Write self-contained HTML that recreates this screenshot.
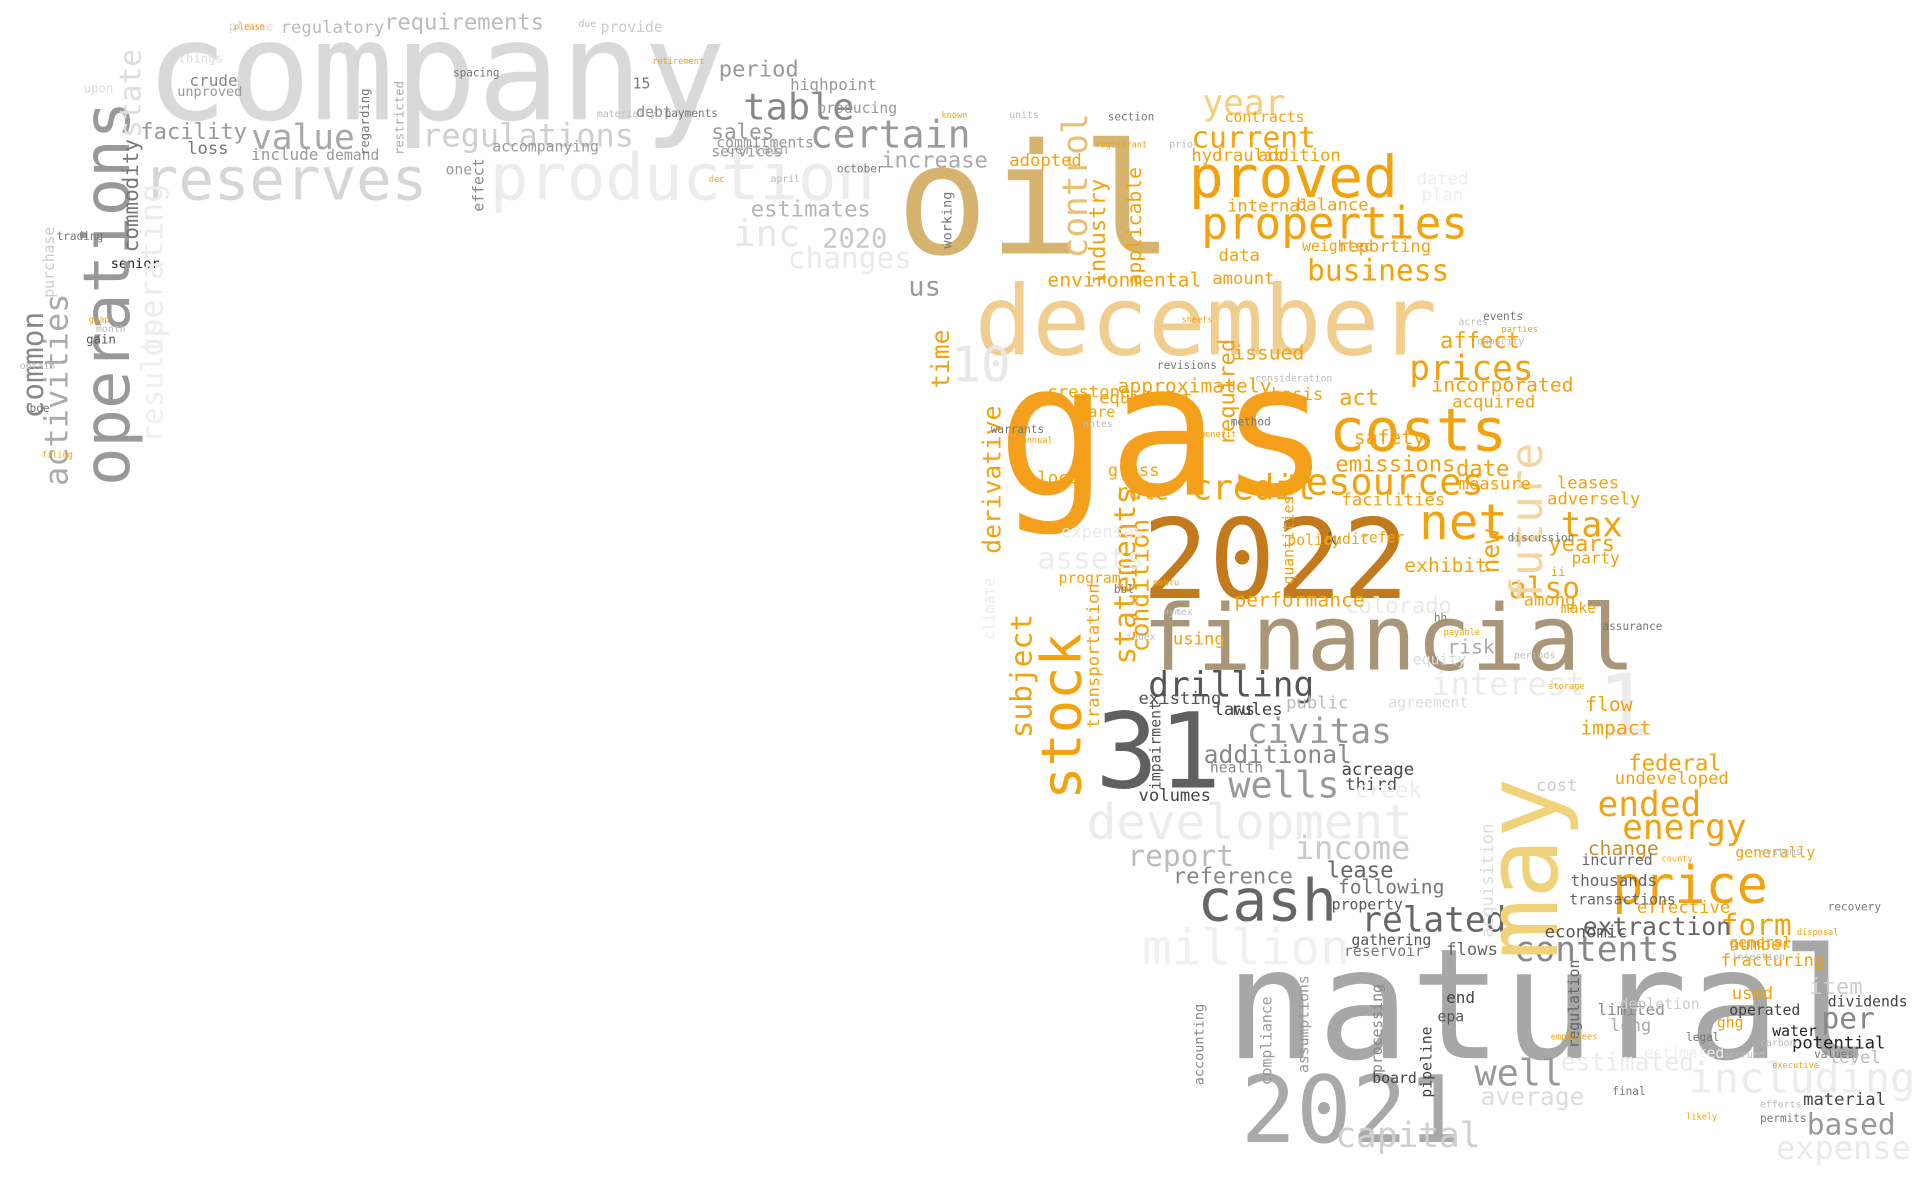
<!DOCTYPE html>
<html>
<head>
<meta charset="utf-8">
<style>
  html,body{margin:0;padding:0;background:#fff;}
  body{width:1920px;height:1196px;overflow:hidden;}
  svg{display:block;}
  text{font-family:"DejaVu Sans Mono","Liberation Mono",monospace;}
</style>
</head>
<body>
<svg id="cloud" width="1920" height="1196" viewBox="0 0 1560 972" preserveAspectRatio="none" xmlns="http://www.w3.org/2000/svg"></svg>
<script>
const words = [
 "company","reserves","production","regulations","value","facility","table","certain","period","sales",
 "increase","estimates","inc","2020","requirements","regulatory","loss","include","demand","crude",
 "unproved","highpoint","producing","senior","proved","properties","year","current","business","december",
 "gas","oil","costs","2022","financial","31","cash","natural","2021","net",
 "tax","resources","credit","prices","emissions","drilling","civitas","wells","development","income",
 "report","related","price","contents","energy","ended","form","extraction","million","well",
 "capital","based","including","expense","per","item","estimated","average","us","interest",
 "also","years","date","additional","lease","cost","federal","undeveloped","change","thousands",
 "affect","act","basis","environmental","equipment","crestone","rule","colorado","reference","1",
 "10","operations","activities","common","state","commodity","operating","results","stock","may",
 "future","subject","derivative","statements","condition","control","industry","applicable","time","required",
 "new","transportation","impairment","acquisition","regulation","compliance","assumptions","processing","working","effect",
 "restricted","regarding","purchase","accounting","safety","incorporated","acquired","facilities","measure","exhibit",
 "risk","party","flow","impact","leases","adversely","used","number","fracturing","potential",
 "water","material","level","long","limited","epa","end","board","pipeline","gathering",
 "flows","economic","reservoir","following","property","third","acreage","laws","rules","public",
 "volumes","health","existing","using","performance","quantities","local","share","program","expenses",
 "assets","gross","approximately","issued","amount","data","weighted","reporting","balance","internal",
 "addition","hydraulic","adopted","contracts","certain2","debt","services","commitments","accompanying","one",
 "gain","upon","things","please","provide","15","dated","plan","k","refer",
 "ghg","dividends","operated","effective","general","generally","transactions","incurred","creek","among",
 "make","ii","audit","policy","climate","changes","depletion","estimated2","agreement","equity"
];
const sizes = [
 112,48,52,26,28,18,30,31,18,17,
 18,18,30,22,18,14,14,13,12,13,
 11,13,12,11,47,36,28,24,24,78,
 150,125,48,90,74,85,47,125,75,40,
 28,30,28,28,18,28,28,30,40,26,
 24,28,42,28,28,28,24,20,40,30,
 28,24,34,26,24,18,20,20,22,26,
 24,18,18,20,18,14,18,14,16,13,
 18,18,14,16,14,14,18,18,18,70,
 40,52,26,24,24,17,26,24,45,82,
 36,24,20,24,20,28,18,16,20,18,
 20,14,12,14,12,12,12,12,11,12,
 10,10,12,11,16,16,14,14,14,16,
 16,13,16,16,14,14,14,14,14,14,
 12,14,14,14,13,12,13,12,12,12,
 14,14,12,16,12,14,14,14,14,14,
 14,12,14,14,16,12,14,12,12,14,
 24,14,16,16,14,14,12,14,14,14,
 14,14,14,12,12,12,12,12,12,12,
 10,10,10,10,12,12,14,14,14,12,
 12,12,12,14,12,12,12,12,18,14,
 12,10,12,12,12,24,12,12,12,12
];
const colors = [
 "#d9d9d9","#d6d6d6","#ececec","#cfcfcf","#a8a8a8","#999","#888","#9a9a9a","#999","#999",
 "#aaa","#b5b5b5","#e6e6e6","#c8c8c8","#bbb","#bbb","#777","#999","#999","#888",
 "#999","#999","#999","#222","#f2a20c","#f2a20c","#f3cf7e","#f2a20c","#f2a20c","#f1cd8e",
 "#f5a01c","#d6b46f","#f2a20c","#c27a1d","#a99679","#606060","#666","#a7a7a7","#a9a9a9","#f2a20c",
 "#f2a20c","#f2a20c","#f2a20c","#f2a20c","#f2a20c","#555","#999","#999","#ececec","#c9c9c9",
 "#bbb","#666","#f2a20c","#888","#f2a20c","#f2a20c","#f2a20c","#666","#f0f0f0","#999",
 "#cfcfcf","#999","#ececec","#eaeaea","#888","#ccc","#ebebeb","#dcdcdc","#999","#ececec",
 "#f2a20c","#f2a20c","#f2a20c","#888","#666","#ccc","#f2a20c","#f2a20c","#c8902a","#666",
 "#f2a20c","#f2a20c","#f2a20c","#f2a20c","#f2a20c","#f2a20c","#f2a20c","#eaeaea","#888","#ececec",
 "#e8e8e8","#999","#aaa","#888","#ddd","#777","#ececec","#f0f0f0","#f2a20c","#f1d27a",
 "#f3d6a2","#f2a20c","#f2a20c","#f2a20c","#f2a20c","#e6c172","#f2a20c","#f2a20c","#f2a20c","#f2a20c",
 "#f2a20c","#f2a20c","#555","#ddd","#666","#999","#999","#888","#777","#888",
 "#aaa","#777","#ccc","#888","#f2a20c","#f2a20c","#f2a20c","#f2a20c","#f2a20c","#f2a20c",
 "#aaa","#f2a20c","#f2a20c","#f2a20c","#f2a20c","#f2a20c","#f2a20c","#f2a20c","#f2a20c","#222",
 "#222","#444","#bbb","#aaa","#888","#555","#444","#444","#444","#555",
 "#666","#555","#777","#777","#555","#555","#444","#444","#444","#bbb",
 "#444","#888","#555","#f2a20c","#f2a20c","#f2a20c","#f2a20c","#f2a20c","#f2a20c","#ebebeb",
 "#ececec","#f2a20c","#f2a20c","#f2a20c","#f2a20c","#f2a20c","#f2a20c","#f2a20c","#f2a20c","#f2a20c",
 "#f2a20c","#f2a20c","#f2a20c","#f2a20c","#aaa","#888","#999","#999","#999","#999",
 "#555","#ddd","#ddd","#ddd","#ccc","#777","#eee","#eee","#555","#f2a20c",
 "#f2a20c","#444","#444","#f2a20c","#f2a20c","#f2a20c","#666","#666","#eee","#f2a20c",
 "#f2a20c","#f2a20c","#f2a20c","#f2a20c","#ececec","#eaeaea","#ccc","#eee","#ddd","#ddd"
];
const layout = [
 [118,97,0],[116,162,0],[398,162,0],[343,119,0],[204,121,0],[114,113,0],[604,97,0],[658,120,0],[584,62,0],[578,113,0],
 [716,136,0],[610,176,0],[596,200,0],[668,201,0],[312,24,0],[228,27,0],[152,125,0],[204,130,0],[265,130,0],[154,70,0],
 [144,78,0],[642,73,0],[664,92,0],[90,218,0],[966,160,0],[976,194,0],[977,93,0],[968,120,0],[1062,228,0],[792,288,0],
 [810,402,0],[728,206,0],[1080,366,0],[928,486,0],[928,544,0],[890,640,0],[973,748,0],[995,860,0],[1008,928,0],[1153,438,0],
 [1268,436,0],[1043,402,0],[968,406,0],[1145,309,0],[1085,383,0],[933,566,0],[1013,604,0],[998,648,0],[883,682,0],[1052,698,0],
 [916,704,0],[1106,757,0],[1310,734,0],[1230,781,0],[1318,682,0],[1298,663,0],[1398,760,0],[1286,760,0],[928,784,0],[1198,882,0],
 [1085,932,0],[1468,922,0],[1372,888,0],[1443,942,0],[1480,836,0],[1470,808,0],[1268,870,0],[1203,898,0],[738,240,0],[1163,565,0],
 [1226,486,0],[1258,448,0],[1183,387,0],[978,620,0],[1078,713,0],[1248,643,0],[1323,626,0],[1312,637,0],[1290,695,0],[1276,720,0],
 [1170,283,0],[1088,329,0],[1033,325,0],[851,233,0],[893,328,0],[851,323,0],[906,406,0],[1093,498,0],[953,718,0],[1298,598,0],
 [773,310,0],[105,395,-90],[55,395,-90],[35,340,-90],[114,112,-90],[112,205,-90],[132,290,-90],[132,360,-90],[878,650,-90],[1265,780,-90],
 [1253,490,-90],[838,600,-90],[813,450,-90],[922,540,-90],[933,530,-90],[883,210,-90],[898,232,-90],[927,232,-90],[771,316,-90],[1003,362,-90],
 [1218,466,-90],[893,592,-90],[943,642,-90],[1213,762,-90],[1283,852,-90],[1033,882,-90],[1063,872,-90],[1123,872,-90],[773,202,-90],[393,172,-90],
 [328,126,-90],[300,126,-90],[44,242,-90],[978,882,-90],[1100,361,0],[1163,318,0],[1180,331,0],[1090,411,0],[1185,398,0],[1141,465,0],
 [1176,531,0],[1277,458,0],[1288,578,0],[1284,597,0],[1265,397,0],[1257,410,0],[1407,812,0],[1405,772,0],[1398,785,0],[1456,852,0],
 [1440,842,0],[1465,898,0],[1486,864,0],[1308,838,0],[1298,825,0],[1168,830,0],[1175,815,0],[1115,880,0],[1163,892,-90],[1098,768,0],
 [1175,776,0],[1255,762,0],[1092,777,0],[1087,726,0],[1082,739,0],[1093,642,0],[1090,630,0],[986,581,0],[1000,581,0],[1045,576,0],
 [925,651,0],[983,628,0],[925,572,0],[953,524,0],[1003,493,0],[1051,475,-90],[843,393,0],[870,339,0],[860,474,0],[862,437,0],
 [843,462,0],[900,387,0],[908,319,0],[1002,292,0],[985,231,0],[990,212,0],[1058,204,0],[1087,205,0],[1053,171,0],[997,172,0],
 [1022,131,0],[968,131,0],[820,135,0],[995,99,0],[590,125,0],[517,95,0],[578,127,0],[582,120,0],[400,123,0],[362,142,0],
 [70,279,0],[68,75,0],[145,51,0],[186,25,0],[488,26,0],[514,72,0],[1151,150,0],[1155,163,0],[1078,443,0],[1105,441,0],
 [1395,835,0],[1485,818,0],[1405,825,0],[1330,742,0],[1405,770,0],[1410,697,0],[1275,735,0],[1285,703,0],[1101,648,0],[1238,492,0],
 [1268,498,0],[1260,468,0],[1076,442,0],[1046,443,0],[808,520,-90],[640,218,0],[1316,820,0],[1336,860,0],[1128,575,0],[1148,540,0]
];
const fillerWords = ["please","due","spacing","gaap","month","trading","filing","obtain","boe","retirement","materially","payments","dec","april","october","known","units","section","registrant","prior","warrants","annual","notes","revisions","sheets","acres","events","parties","capacity","discussion","storage","consideration","method","benefit","nymex","bbl","mmbtu","index","hh","payable","periods","assurance","county","carbon","legal","employees","accrued","values","executive","systems","recovery","disposal","injection","final","likely","efforts","permits","options","royalty","offset"];
const fillerSpots = [
 [190,24],[470,22],[368,62],[72,262],[78,270],[46,195],[34,372],[16,300],[24,335],[530,52],[485,95],[540,95],
 [576,148],[626,148],[680,140],[765,96],[820,96],[900,98],[890,120],[950,120],[805,352],[830,360],[880,347],[940,300],
 [960,262],[1185,264],[1205,260],[1220,270],[1200,280],[1225,440],[1258,560],[1020,310],[1000,346],[975,355],
 [945,500],[905,482],[937,476],[915,520],[1165,505],[1173,516],[1230,535],[1302,512],[1350,700],[1430,850],
 [1370,846],[1260,845],[1400,860],[1474,860],[1440,868],[1430,695],[1485,740],[1460,760],[1407,780],[1310,890],
 [1370,910],[1430,900],[1430,912]
];
const svg = document.getElementById('cloud');
const NS = 'http://www.w3.org/2000/svg';
for (let i = 0; i < words.length; i++) {
  const [x, y, r] = layout[i];
  const t = document.createElementNS(NS, 'text');
  t.setAttribute('x', x);
  t.setAttribute('y', y);
  t.setAttribute('font-size', sizes[i]);
  t.setAttribute('fill', colors[i]);
  if (r) t.setAttribute('transform', 'rotate(' + r + ' ' + x + ' ' + y + ')');
  t.textContent = /^[a-z]+\d$/.test(words[i]) ? words[i].slice(0, -1) : words[i];
  
  
  svg.appendChild(t);
}
for (let i = 0; i < fillerSpots.length; i++) {
  const [x, y] = fillerSpots[i];
  const t = document.createElementNS(NS, 'text');
  t.setAttribute('x', x);
  t.setAttribute('y', y);
  t.setAttribute('font-size', 7 + (i % 3));
  t.setAttribute('fill', i % 3 === 0 ? '#f2a20c' : (i % 3 === 1 ? '#bbb' : '#777'));
  t.textContent = fillerWords[i % fillerWords.length];
  
  
  svg.appendChild(t);
}
</script>
</body>
</html>
